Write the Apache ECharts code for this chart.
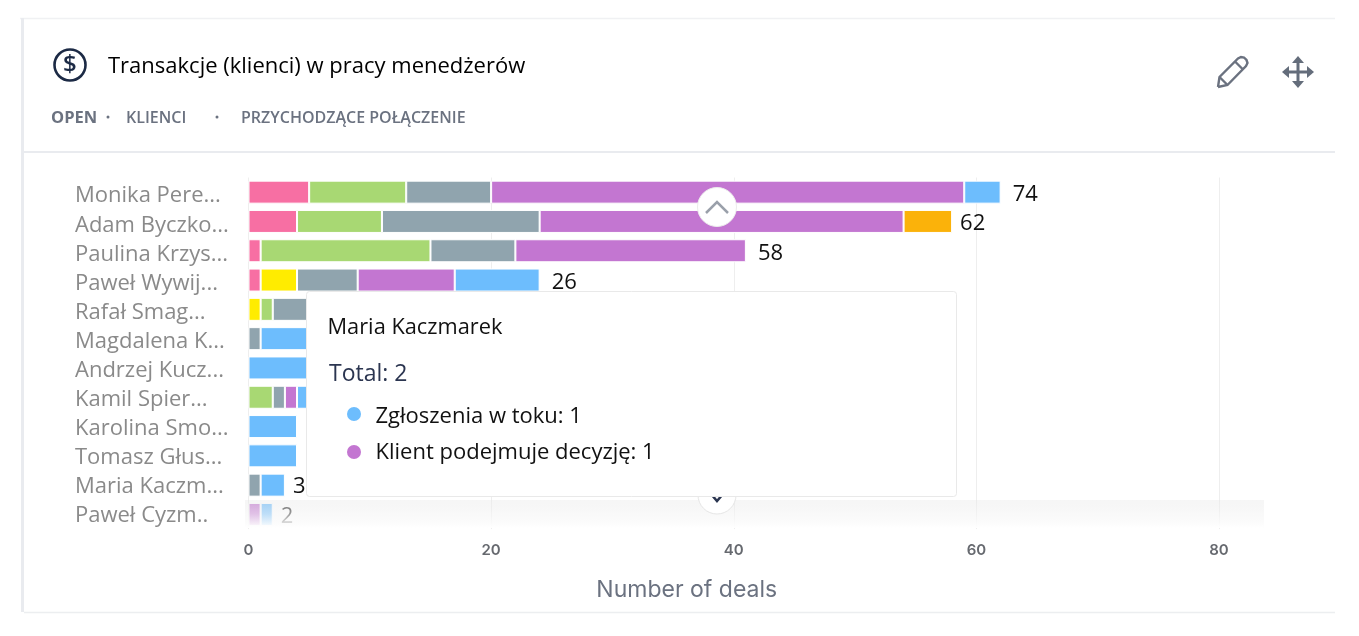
<!DOCTYPE html>
<html><head><meta charset="utf-8">
<style>html,body{margin:0;padding:0;background:#fff}#c{width:1359px;height:636px}</style>
<script src="https://cdn.jsdelivr.net/npm/echarts@6/dist/echarts.min.js"></script>
</head><body><div id="c"></div>
<script>
const categories = ['Monika Pere...','Adam Byczko...','Paulina Krzys...','Paweł Wywij...','Rafał Smag...','Magdalena K...','Andrzej Kucz...','Kamil Spier...','Karolina Smo...','Tomasz Głus...','Maria Kaczm...','Paweł Cyzm..'];
const pink   = [5,4,1,1,null,null,null,null,null,null,null,null];
const yellow = [null,null,null,3,1,null,null,null,null,null,null,null];
const green  = [8,7,14,null,1,null,null,2,null,null,null,null];
const grey   = [7,13,7,5,3,1,null,1,null,null,1,null];
const purple = [39,30,19,8,null,null,null,1,null,null,null,1];
const blue   = [3,null,null,7,2,4,5,1,4,4,2,1];
const orange = [null,4,null,null,null,null,null,null,null,null,null,null];
const totals = [74,62,58,26,7,5,5,5,4,4,3,2];
const xTicks = {min:0,max:80,interval:20};
const tooltipTitle = 'Maria Kaczmarek';
const tooltipTotal = 'Total: 2';
const tooltipItems = ['Zgłoszenia w toku: 1','Klient podejmuje decyzję: 1'];

const C = {pink:'#f76fa3',yellow:'#ffec00',green:'#a8d873',grey:'#90a4ae',purple:'#c376d1',blue:'#6dbdfd',orange:'#fbb20a'};
const F = '"Open Sans",sans-serif';
const stack = (name,data,color)=>({name,type:'bar',stack:'t',data,barWidth:23,z:2,
  itemStyle:{color,borderColor:'#fff',borderWidth:1},emphasis:{disabled:true}});
const line=(x1,y1,x2,y2,color,w)=>({type:'line',z:50,silent:true,shape:{x1,y1,x2,y2},style:{stroke:color,lineWidth:w}});
const txt=(x,y,text,size,color,weight,family,z)=>({type:'text',x,y,z:z||60,silent:true,style:{text,font:(weight||400)+' '+size+'px '+(family||F),fill:color,verticalAlign:'middle'}});
const poly=(points,fill)=>({type:'polygon',z:60,silent:true,shape:{points},style:{fill}});
const pline=(points,stroke,w,z)=>({type:'polyline',z:z||60,silent:true,shape:{points},style:{fill:'none',stroke,lineWidth:w}});
const TZ=90;
const tightLabels = new Set([1,10,11]);

const chart = echarts.init(document.getElementById('c'),null,{renderer:'canvas'});
chart.setOption({
  animation:false,
  backgroundColor:'#fff',
  grid:[
    {left:248.5,top:177.5,width:970.5,height:351.6},
    {left:248.5,top:181.7,width:970.5,height:348.5}
  ],
  xAxis:[
    {type:'value',min:xTicks.min,max:xTicks.max,interval:xTicks.interval,
    axisLine:{show:false},axisTick:{show:false},
    splitLine:{show:true,lineStyle:{color:'#eeeeee',width:1}},
    axisLabel:{margin:14,color:'#66696f',fontFamily:'Inter',fontSize:15,fontWeight:600},
    name:'Number of deals',nameLocation:'middle',nameGap:49,
    nameTextStyle:{fontFamily:'Inter',fontSize:23,color:'#6b7280',padding:[0,94,0,0]}},
    {type:'value',gridIndex:1,min:xTicks.min,max:xTicks.max,show:false}
  ],
  yAxis:[
    {type:'category',inverse:true,data:categories,
    axisLine:{show:false},axisTick:{show:false},axisLabel:{show:false}},
    {type:'category',gridIndex:1,inverse:true,data:categories,
    axisLine:{show:false},axisTick:{show:false},
    axisLabel:{interval:0,align:'left',margin:173.5,color:'#8a8a8a',fontFamily:F,fontSize:22}}
  ],
  series:[
    stack('Etap 1',pink,C.pink),stack('Etap 2',yellow,C.yellow),stack('Etap 3',green,C.green),
    stack('Etap 4',grey,C.grey),stack('Klient podejmuje decyzję',purple,C.purple),
    stack('Zgłoszenia w toku',blue,C.blue),stack('Etap 7',orange,C.orange),
    {name:'Suma',type:'bar',stack:'t',barWidth:23,z:3,
     data:totals.map((_,i)=>tightLabels.has(i)?{value:0,label:{offset:[-4,2]}}:0),
     itemStyle:{color:'transparent'},
     label:{show:true,position:'right',distance:12,offset:[0,3],fontFamily:F,fontSize:22,color:'#111',
       formatter:p=>totals[p.dataIndex]}}
  ],
  graphic:{elements:[
    // card
    line(20,18.5,1335,18.5,'#f0f1f3',1.5),
    line(22.5,18,22.5,612,'#e9ebef',3),
    line(24,152,1335,152,'#e9ebef',2),
    line(24,612.5,1335,612.5,'#eceef0',1.5),
    // header
    {type:'circle',z:60,silent:true,shape:{cx:70,cy:65,r:15.5},style:{fill:'none',stroke:'#1c2a45',lineWidth:2.6}},
    txt(63,65.5,'$',24,'#1c2a45',600),
    txt(108,67,'Transakcje (klienci) w pracy menedżerów',22,'#000000',400),
    txt(51,118,'OPEN',16.5,'#6b7280',700),
    {type:'circle',z:60,silent:true,shape:{cx:108,cy:117,r:1.5},style:{fill:'#6b7280'}},
    txt(126,118,'KLIENCI',16,'#6b7280',600),
    {type:'circle',z:60,silent:true,shape:{cx:217,cy:117,r:1.5},style:{fill:'#6b7280'}},
    txt(241,118,'PRZYCHODZĄCE POŁĄCZENIE',16,'#6b7280',600),
    // pencil
    pline([[1218,87],[1219.5,77],[1238,58.5],[1241,57],[1244,57.5],[1246.5,60],[1247.5,63],[1246,66],[1227.5,85],[1218,87]],'#6b7280',2.4),
    pline([[1235,61.5],[1243,69.5]],'#6b7280',2.4),
    pline([[1219.5,77],[1227.5,85]],'#6b7280',2.4),
    // move
    line(1298,60,1298,84,'#646d7b',3),
    line(1286,72,1310,72,'#646d7b',3),
    poly([[1298,56],[1304,63],[1292,63]],'#646d7b'),
    poly([[1298,88],[1292,81],[1304,81]],'#646d7b'),
    poly([[1282,72],[1289,66],[1289,78]],'#646d7b'),
    poly([[1314,72],[1307,78],[1307,66]],'#646d7b'),
    // fade over the last row
    {type:'rect',z:70,silent:true,shape:{x:245,y:500,width:1019,height:28},style:{fill:{type:'linear',x:0,y:0,x2:0,y2:1,colorStops:[{offset:0,color:'rgba(232,232,232,0.4)'},{offset:0.5,color:'rgba(245,245,245,0.6)'},{offset:1,color:'rgba(255,255,255,1)'}]}}},
    // scroll buttons
    {type:'circle',z:75,silent:true,shape:{cx:717,cy:207,r:19.5},style:{fill:'#fff',stroke:'#ececec',lineWidth:1}},
    pline([[706,213],[717,202],[728,213]],'#9aa0aa',2.5,76),
    {type:'circle',z:75,silent:true,shape:{cx:717,cy:495,r:19},style:{fill:'#fff',stroke:'#e6e6e6',lineWidth:1}},
    pline([[711,494],[717,501],[723,494]],'#2a3550',2.5,76),
    // tooltip
    {type:'rect',z:TZ,silent:true,shape:{x:306.5,y:291.5,width:650,height:205,r:3},style:{fill:'#fff',stroke:'#e9e9e9',lineWidth:1}},
    txt(327.5,327.5,tooltipTitle,21.8,'#111111',400,F,TZ+1),
    txt(329,374,tooltipTotal,23,'#2b3550',400,F,TZ+1),
    {type:'circle',z:TZ+1,silent:true,shape:{cx:354,cy:414,r:7},style:{fill:C.blue}},
    txt(375.5,417,tooltipItems[0],22,'#111111',400,F,TZ+1),
    {type:'circle',z:TZ+1,silent:true,shape:{cx:354,cy:452,r:7},style:{fill:C.purple}},
    txt(375.5,453,tooltipItems[1],22,'#111111',400,F,TZ+1)
  ]}
});
</script></body></html>
